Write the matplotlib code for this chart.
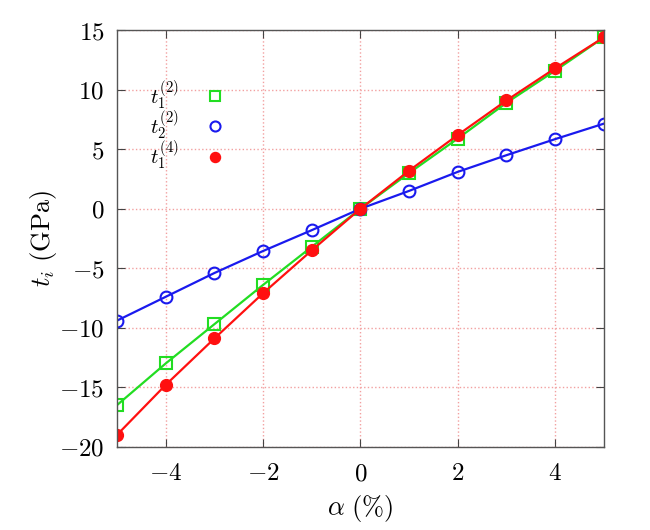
import matplotlib
matplotlib.use('Agg')
import matplotlib.pyplot as plt
from matplotlib.ticker import FuncFormatter

plt.rcParams['mathtext.fontset'] = 'cm'
plt.rcParams['font.family'] = 'serif'
plt.rcParams['font.serif'] = ['DejaVu Serif']

# strain alpha (%)
alpha = [-5, -4, -3, -2, -1, 0, 1, 2, 3, 4, 5]
# t_1^(2)
t1_2 = [-16.5, -13.0, -9.7, -6.4, -3.2, 0.0, 3.0, 5.9, 8.9, 11.6, 14.4]
# t_2^(2)
t2_2 = [-9.4, -7.4, -5.4, -3.55, -1.8, 0.0, 1.5, 3.1, 4.5, 5.85, 7.15]
# t_1^(4)
t1_4 = [-19.0, -14.8, -10.9, -7.1, -3.5, 0.0, 3.2, 6.2, 9.1, 11.8, 14.4]

fig = plt.figure(figsize=(6.5, 5.3), dpi=100)
ax = fig.add_axes([0.18, 0.157, 0.749, 0.786])

ax.plot(alpha, t1_2, color='#22dd22', lw=1.6, marker='s', ms=8,
        mfc='none', mec='#22dd22', mew=1.5, label=r'$t_1^{(2)}$')
ax.plot(alpha, t2_2, color='#1a1aee', lw=1.6, marker='o', ms=8.5,
        mfc='none', mec='#1a1aee', mew=1.5, label=r'$t_2^{(2)}$')
ax.plot(alpha, t1_4, color='#ff1010', lw=1.6, marker='o', ms=8.5,
        mfc='#ff1010', mec='#ff1010', label=r'$t_1^{(4)}$')

ax.set_xlim(-5, 5)
ax.set_ylim(-20, 15)
ax.set_xticks([-4, -2, 0, 2, 4])
ax.set_yticks(range(-20, 16, 5))
fmt = FuncFormatter(lambda v, p: r'$%d$' % v)
ax.xaxis.set_major_formatter(fmt)
ax.yaxis.set_major_formatter(fmt)
ax.tick_params(direction='in', top=True, right=True, length=6,
               labelsize=18, color='#444444')
ax.tick_params(axis='x', pad=11)
ax.tick_params(axis='y', pad=9)
for s in ax.spines.values():
    s.set_color('#555555')
    s.set_linewidth(1.0)

ax.grid(True, color='#f2a0a0', linestyle=':', linewidth=1.0)
ax.set_axisbelow(True)

ax.set_xlabel(r'$\alpha\ (\%)$', fontsize=19, labelpad=6)
ax.set_ylabel(r'$t_i\ (\mathrm{GPa})$', fontsize=19, labelpad=0)

leg = ax.legend(loc='upper left', bbox_to_anchor=(0.05, 0.905), frameon=False,
                markerfirst=False, handlelength=0, handletextpad=1.75,
                fontsize=15, labelspacing=-0.15, borderaxespad=0,
                markerscale=0.85)
for h in leg.legend_handles:
    h.set_linestyle('none')

fig.savefig('out.png', dpi=100)
